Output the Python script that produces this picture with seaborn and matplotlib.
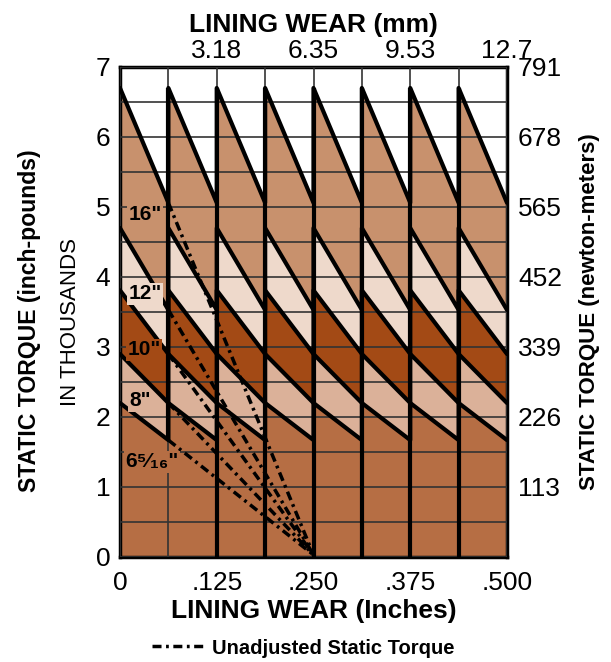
import pandas as pd
import matplotlib
matplotlib.use('Agg')
import matplotlib.pyplot as plt
import seaborn as sns

# Static torque per drum size, thousands of inch-pounds
sizes = ['16"', '12"', '10"', '8"', '6⁵⁄₁₆"']
tooth_top = [6.70, 4.70, 3.81, 2.90, 2.20]       # right after each adjustment
tooth_bottom = [5.06, 3.53, 2.90, 2.20, 1.67]    # after 1/16" of wear
band_colors = ['#c8916d', '#eed9cb', '#a34a15', '#dbb199', '#b66e44']
label_x = [0.032, 0.032, 0.031, 0.026, 0.041]
label_y = [4.89, 3.76, 2.96, 2.23, 1.36]

step = 1 / 16          # adjustment interval (inches)
n_steps = 8
unadj_zero = 0.25      # wear at which unadjusted torque reaches zero

in_ticks = [0, 0.125, 0.25, 0.375, 0.5]
in_labels = ['0', '.125', '.250', '.375', '.500']
mm_ticks = [0.125, 0.25, 0.375, 0.5]
mm_labels = ['3.18', '6.35', '9.53', '12.7']
lb_ticks = [0, 1, 2, 3, 4, 5, 6, 7]
nm_ticks = [1, 2, 3, 4, 5, 6, 7]
nm_labels = ['113', '226', '339', '452', '565', '678', '791']

sns.set_style('white')
plt.rcParams['font.family'] = ['Liberation Sans', 'DejaVu Sans']
plt.rcParams['text.color'] = 'black'
plt.rcParams['axes.labelcolor'] = 'black'
plt.rcParams['xtick.color'] = 'black'
plt.rcParams['ytick.color'] = 'black'

# sawtooth table: each tooth runs from top down to bottom over one step
rows = []
for s, top, bot in zip(sizes, tooth_top, tooth_bottom):
    for k in range(n_steps):
        rows.append({'size': s, 'wear': k * step, 'torque': top})
        rows.append({'size': s, 'wear': (k + 1) * step, 'torque': bot})
saw = pd.DataFrame(rows)

fig = plt.figure(figsize=(6.11, 6.62), dpi=100)
ax = fig.add_axes([120 / 611, 1 - 557 / 662, 387 / 611, 490 / 662])

# bands between consecutive curves
for i, s in enumerate(sizes):
    upper = saw[saw['size'] == s]
    if i + 1 < len(sizes):
        lower = saw[saw['size'] == sizes[i + 1]]['torque'].values
    else:
        lower = 0
    ax.fill_between(upper['wear'].values, upper['torque'].values, lower,
                    color=band_colors[i], lw=0, zorder=1)

sns.lineplot(data=saw, x='wear', y='torque', units='size', estimator=None,
             sort=False, color='black', lw=3.0, ax=ax, zorder=4)

# vertical edges where shoes are re-adjusted
ax.vlines(step, tooth_bottom[-1], tooth_top[0], color='black', lw=3.0, zorder=4)
ax.vlines([k * step for k in range(2, n_steps)], 0, tooth_top[0],
          color='black', lw=3.0, zorder=4)

# unadjusted torque: straight fall-off from first tooth to zero
dash = (0, (2.6, 1.3, 0.8, 1.3))
for i, bot in enumerate(tooth_bottom):
    sns.lineplot(x=[step, unadj_zero], y=[bot, 0.03], color='black', lw=2.5,
                 linestyle=dash, ax=ax, zorder=3,
                 label='Unadjusted Static Torque' if i == 0 else None, legend=False)

for s, lx, ly, c in zip(sizes, label_x, label_y, band_colors):
    ax.text(lx, ly, s, ha='center', va='center', fontsize=15, fontweight='bold',
            zorder=5, bbox=dict(facecolor=c, edgecolor='none', pad=1.0))

ax.set_xlim(0, 0.5)
ax.set_ylim(0, 7)
ax.set_xticks(in_ticks)
ax.set_xticklabels(in_labels)
ax.set_yticks(lb_ticks)
ax.set_xticks([k * step for k in range(n_steps + 1)], minor=True)
ax.set_yticks([v / 2 for v in range(15)], minor=True)
ax.grid(which='both', color='#333333', lw=1.2)
ax.set_axisbelow(False)
ax.tick_params(axis='both', which='major', labelsize=19, direction='in', length=5, width=1.2)
ax.tick_params(axis='x', pad=10)
ax.tick_params(axis='y', pad=7)
ax.tick_params(which='minor', length=0)
ax.set_xlabel('LINING WEAR (Inches)', fontsize=19, fontweight='bold', labelpad=3)
ax.set_ylabel('')
for sp in ax.spines.values():
    sp.set_linewidth(2.5)
    sp.set_color('black')

top = ax.secondary_xaxis('top')
top.set_xticks(mm_ticks)
top.set_xticklabels(mm_labels)
top.tick_params(labelsize=19, length=0, pad=3)
top.set_xlabel('LINING WEAR (mm)', fontsize=19, fontweight='bold', labelpad=5)

right = ax.secondary_yaxis('right')
right.set_yticks(nm_ticks)
right.set_yticklabels(nm_labels)
right.tick_params(labelsize=19, length=0, pad=8)
right.set_ylabel('STATIC TORQUE (newton-meters)', fontsize=16, fontweight='bold', labelpad=12)

fig.text(30 / 611, 1 - 321 / 662, 'STATIC TORQUE (inch-pounds)', rotation=90,
         ha='center', va='center', fontsize=16.6, fontweight='bold')
fig.text(71 / 611, 1 - 322 / 662, 'IN THOUSANDS', rotation=90,
         ha='center', va='center', fontsize=16)

h, l = ax.get_legend_handles_labels()
fig.legend(h, l, loc='center', bbox_to_anchor=(303 / 611, 1 - 648 / 662),
           frameon=False, handlelength=2.6, handletextpad=0.4,
           prop={'size': 14.5, 'weight': 'bold'})

fig.savefig('out.png', dpi=100)
